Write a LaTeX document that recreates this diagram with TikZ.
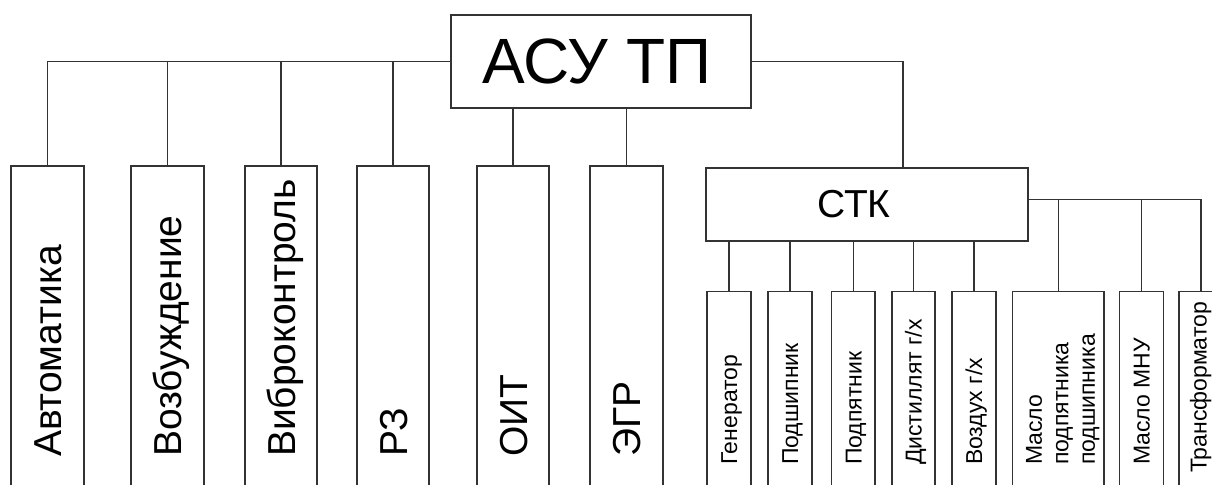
\documentclass[tikz,border=0pt]{standalone}
\usepackage{fontspec}
\setmainfont{Liberation Sans}
\usetikzlibrary{calc}

\begin{document}
\begin{tikzpicture}[x=0.5pt,y=-0.5pt,
  every node/.style={inner sep=0pt, outer sep=0pt},
  wire/.style={line width=0.8pt, draw=black!80},
  frame/.style={draw=black!80, line width=0.8pt, rectangle},
  headbox/.style={frame, minimum width=150pt, minimum height=46.5pt,
                  font=\fontsize{32}{38}\selectfont},
  stkbox/.style={frame, minimum width=161pt, minimum height=36.5pt,
                 font=\fontsize{19.5}{23}\selectfont},
  tallbox/.style={frame, anchor=north, minimum width=36.25pt, minimum height=170pt},
  smallbox/.style={frame, anchor=north, minimum width=21.75pt, minimum height=110pt},
  biglabel/.style={rotate=90, anchor=base west, font=\fontsize{19.5}{23}\selectfont},
  smalllabel/.style={rotate=90, anchor=base west, font=\fontsize{11.5}{13.25}\selectfont}]

\useasboundingbox (0,0) rectangle (1212,485);
\clip (0,0) rectangle (1212,485);

% top level
\node[headbox] (asu) at (601,61.5) {АСУ ТП\hspace*{4pt}};

% subsystems
\node[tallbox] (avt) at (47.5,166) {};
\node[tallbox] (voz) at (167.5,166) {};
\node[tallbox] (vib) at (281,166) {};
\node[tallbox] (rz)  at (393,166) {};
\node[tallbox] (oit) at (513,166) {};
\node[tallbox] (egr) at (626.5,166) {};

\node[biglabel] (avt-t) at ($(avt.north)+(14,291)$) {Автоматика};
\node[biglabel] (voz-t) at ($(voz.north)+(14,291)$) {Возбуждение};
\node[biglabel] (vib-t) at ($(vib.north)+(14,291)$) {Виброконтроль};
\node[biglabel] (rz-t)  at ($(rz.north)+(14,291)$)  {РЗ};
\node[biglabel] (oit-t) at ($(oit.north)+(14,291)$) {ОИТ};
\node[biglabel] (egr-t) at ($(egr.north)+(14,291)$) {ЭГР};

\draw[wire] (asu.west) -| (avt.north);
\draw[wire] (asu.west) -| (voz.north);
\draw[wire] (asu.west) -| (vib.north);
\draw[wire] (asu.west) -| (rz.north);
\draw[wire] (asu.south -| oit.north) -- (oit.north);
\draw[wire] (asu.south -| egr.north) -- (egr.north);

% temperature monitoring
\node[stkbox] (stk) at (867,204.5) {СТК\hspace*{13pt}};
\draw[wire] (asu.east) -| ($(stk.north)+(36,0)$);

\node[smallbox] (gen)  at (729,291.7) {};
\node[smallbox] (pdsh) at (790,291.7) {};
\node[smallbox] (pdp)  at (853.3,291.7) {};
\node[smallbox] (dist) at (913.5,291.7) {};
\node[smallbox] (vozd) at (974,291.7) {};
\node[smallbox, minimum width=45.65pt] (msl) at (1058.3,291.7) {};
\node[smallbox, minimum width=22pt] (mnu) at (1141.3,291.7) {};
\node[smallbox] (tr)   at (1200.7,291.7) {};

\node[smalllabel] (gen-t)  at ($(gen.north)+(8.2,173.3)$)  {Генератор};
\node[smalllabel] (pdsh-t) at ($(pdsh.north)+(8.2,173.3)$) {Подшипник};
\node[smalllabel] (pdp-t)  at ($(pdp.north)+(8.2,173.3)$)  {Подпятник};
\node[smalllabel] (dist-t) at ($(dist.north)+(8.2,173.3)$) {Дистиллят г/х};
\node[smalllabel] (vozd-t) at ($(vozd.north)+(8.2,173.3)$) {Воздух г/х};
\node[smalllabel, anchor=north west, align=left] (msl-t) at ($(msl.north)+(-32.3,173.3)$)
  {Масло\\подпятника\\подшипника};
\node[smalllabel] (mnu-t)  at ($(mnu.north)+(8.2,173.3)$)  {Масло МНУ};
\node[smalllabel] (tr-t)   at ($(tr.north)+(6,181.3)$)     {Трансформатор};

\draw[wire] (stk.south -| gen.north)  -- (gen.north);
\draw[wire] (stk.south -| pdsh.north) -- (pdsh.north);
\draw[wire] (stk.south -| pdp.north)  -- (pdp.north);
\draw[wire] (stk.south -| dist.north) -- (dist.north);
\draw[wire] (stk.south -| vozd.north) -- (vozd.north);
\draw[wire] ($(stk.east)+(0,-5)$) -| (msl.north);
\draw[wire] ($(stk.east)+(0,-5)$) -| (mnu.north);
\draw[wire] ($(stk.east)+(0,-5)$) -| (tr.north);
\end{tikzpicture}
\end{document}
